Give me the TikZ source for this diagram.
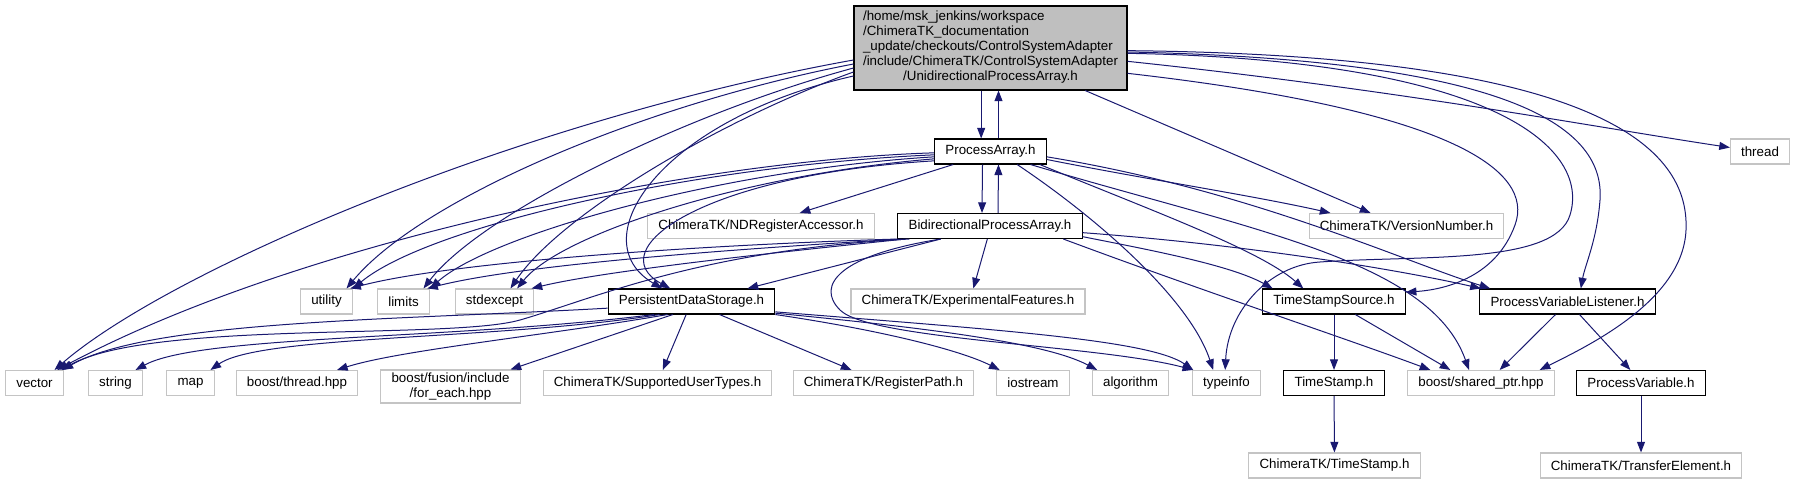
\documentclass[tikz,border=0pt]{standalone}
\usepackage{fontspec}
\setmainfont{Liberation Sans}
\usepackage{tikz}
\usetikzlibrary{arrows.meta}
\definecolor{edgeblue}{RGB}{25,25,112}
\definecolor{rootgray}{RGB}{191,191,191}
\definecolor{sysgray}{RGB}{196,196,196}

\begin{document}
\begin{tikzpicture}[
  x=0.75pt,y=-0.75pt,
  >={Triangle[length=8pt,width=6pt]},
  rootfile/.style={draw=black,line width=0.8pt,fill=rootgray,inner sep=0pt,minimum width=204.75pt,minimum height=63pt,font=\fontsize{10}{11.25}\selectfont},
  hdr/.style={draw=black,line width=0.8pt,fill=white,inner xsep=8pt,inner ysep=0pt,minimum height=18.75pt,font=\fontsize{10}{12}\selectfont},
  ext/.style={draw=sysgray,line width=0.8pt,fill=white,inner xsep=8pt,inner ysep=0pt,minimum height=18.75pt,font=\fontsize{10}{10.75}\selectfont},
  dep/.style={->,draw=edgeblue,line width=0.75pt}
]
\useasboundingbox (0,0) rectangle (1795,484);

% TOP: the documented header
\node[rootfile] (root) at (990.5,48) {\begin{tabular}{@{}l@{}}/home/msk\_jenkins/workspace\\ /ChimeraTK\_documentation\\ \_update/checkouts/ControlSystemAdapter\\ /include/ChimeraTK/ControlSystemAdapter\\ \multicolumn{1}{@{}c@{}}{/UnidirectionalProcessArray.h}\end{tabular}};

% RANK 1 and 2
\node[hdr] (pa) at (990.5,151.5) {ProcessArray.h};
\node[ext] (thread) at (1760,151.5) {thread};
\node[ext] (nd) at (761,226) {ChimeraTK/NDRegisterAccessor.h};
\node[hdr] (bpa) at (990,226) {BidirectionalProcessArray.h};
\node[ext] (vn) at (1406.5,226) {ChimeraTK/VersionNumber.h};

% RANK 3
\node[ext] (utility) at (326.5,301.5) {utility};
\node[ext] (limits) at (403.5,301.5) {limits};
\node[ext] (stdexcept) at (494.5,301.5) {stdexcept};
\node[hdr] (pds) at (691.5,301.5) {PersistentDataStorage.h};
\node[ext] (ef) at (968,301.5) {ChimeraTK/ExperimentalFeatures.h};
\node[hdr] (tss) at (1334,301.5) {TimeStampSource.h};
\node[hdr] (pvl) at (1567.5,301.5) {ProcessVariableListener.h};

% RANK 4
\node[ext] (vector) at (34.5,383) {vector};
\node[ext] (string) at (115.5,383) {string};
\node[ext] (map) at (190.5,383) {map};
\node[ext] (bth) at (297,383) {boost/thread.hpp};
\node[ext,align=center,minimum height=24.75pt] (bfe) at (450.5,386.5) {boost/fusion/include\\/for\_each.hpp};
\node[ext] (sut) at (657.5,383) {ChimeraTK/SupportedUserTypes.h};
\node[ext] (rp) at (883.5,383) {ChimeraTK/RegisterPath.h};
\node[ext] (iostream) at (1033,383) {iostream};
\node[ext] (algorithm) at (1130.5,383) {algorithm};
\node[ext] (typeinfo) at (1226.5,383) {typeinfo};
\node[hdr] (ts) at (1334,383) {TimeStamp.h};
\node[ext] (sp) at (1481,383) {boost/shared\_ptr.hpp};
\node[hdr] (pv) at (1641,383) {ProcessVariable.h};

% BOTTOM
\node[ext] (cts) at (1334.5,465.5) {ChimeraTK/TimeStamp.h};
\node[ext] (te) at (1641,465.5) {ChimeraTK/TransferElement.h};

% from the documented header
\draw[dep] ([xshift=-7pt]root.south) -- ([xshift=-7pt]pa.north);
\draw[dep] ([xshift=6pt]pa.north) -- ([xshift=6pt]root.south);
\draw[dep] ([yshift=-9pt]root.west) .. controls (520,120) and (170,270) .. ([xshift=15pt]vector.north);
\draw[dep] ([yshift=-12pt]root.west) .. controls (640,105) and (420,200) .. ([xshift=15pt]utility.north);
\draw[dep] ([yshift=-15pt]root.west) .. controls (680,115) and (480,215) .. ([xshift=15pt]limits.north);
\draw[dep] ([yshift=-18pt]root.west) .. controls (720,120) and (560,215) .. ([xshift=12pt]stdexcept.north);
\draw[dep] ([yshift=-21pt]root.west) .. controls (660,120) and (580,240) .. ([xshift=-22pt]pds.north);
\draw[dep] ([xshift=71pt]root.south) -- ([xshift=-27pt]vn.north);
\draw[dep] ([yshift=-10pt]root.east) .. controls (1400,90) and (1600,128) .. ([yshift=3pt]thread.west);
\draw[dep] ([yshift=-19pt]root.east) .. controls (1450,110) and (1535,170) .. (1515,225) .. controls (1495,280) and (1440,290) .. ([yshift=7pt]tss.east);
\draw[dep] ([yshift=-4pt]root.east) .. controls (1500,60) and (1590,150) .. (1570,215) .. controls (1555,265) and (1420,255) .. (1320,262) .. controls (1270,265) and (1228,310) .. ([xshift=-1pt]typeinfo.north);
\draw[dep] ([yshift=-3pt]root.east) .. controls (1520,60) and (1605,130) .. (1600,200) .. controls (1597,240) and (1585,265) .. ([xshift=10pt]pvl.north);
\draw[dep] ([yshift=-2pt]root.east) .. controls (1580,55) and (1690,140) .. (1686,230) .. controls (1683,300) and (1590,345) .. ([xshift=44pt]sp.north);

% ProcessArray.h
\draw[dep] ([xshift=-6pt]pa.south) -- ([xshift=-6pt]bpa.north);
\draw[dep] ([xshift=6pt]bpa.north) -- ([xshift=6pt]pa.south);
\draw[dep] ([xshift=-28pt]pa.south) -- ([xshift=29pt]nd.north);
\draw[dep] ([yshift=-1pt]pa.west) .. controls (700,160) and (300,240) .. ([xshift=17pt]vector.north);
\draw[dep] ([yshift=-2.5pt]pa.west) .. controls (700,165) and (430,225) .. ([xshift=20pt]utility.north);
\draw[dep] ([yshift=-4pt]pa.west) .. controls (720,170) and (490,235) .. ([xshift=20pt]limits.north);
\draw[dep] ([yshift=-5.5pt]pa.west) .. controls (740,175) and (560,235) .. ([xshift=17pt]stdexcept.north);
\draw[dep] ([yshift=-7pt]pa.west) .. controls (700,175) and (600,250) .. ([xshift=-16pt]pds.north);
\draw[dep] ([yshift=-6pt]pa.east) .. controls (1150,180) and (1250,195) .. ([xshift=-57pt]vn.north);
\draw[dep] ([xshift=37pt]pa.south) .. controls (1150,210) and (1260,250) .. ([xshift=-23pt]tss.north);
\draw[dep] ([yshift=-4pt]pa.east) .. controls (1250,190) and (1400,260) .. ([xshift=-58pt]pvl.north);
\draw[dep] ([xshift=30pt]pa.south) .. controls (1250,230) and (1430,260) .. ([xshift=-9pt]sp.north);
\draw[dep] ([xshift=20pt]pa.south) .. controls (1100,220) and (1190,300) .. ([xshift=-10pt]typeinfo.north);

% BidirectionalProcessArray.h
\draw[dep] (bpa.south west) .. controls (700,245) and (450,262) .. ([xshift=-2pt]utility.north east);
\draw[dep] ([xshift=3pt]bpa.south west) .. controls (720,250) and (520,265) .. ([xshift=-2pt]limits.north east);
\draw[dep] ([xshift=6pt]bpa.south west) .. controls (750,255) and (600,272) .. ([xshift=-2pt]stdexcept.north east);
\draw[dep] ([xshift=9pt]bpa.south west) .. controls (700,250) and (590,300) .. (520,320) .. controls (450,340) and (150,320) .. ([xshift=20pt]vector.north);
\draw[dep] ([xshift=-37pt]bpa.south) -- ([xshift=42pt]pds.north);
\draw[dep] ([xshift=-2pt]bpa.south) -- ([xshift=4pt]ef.north);
\draw[dep] ([xshift=-37pt]bpa.south) .. controls (840,255) and (815,285) .. (840,310) .. controls (870,340) and (1100,345) .. ([xshift=-25pt]typeinfo.north);
\draw[dep] ([yshift=-8pt]bpa.east) .. controls (1150,250) and (1230,265) .. ([xshift=-46pt]tss.north);
\draw[dep] ([yshift=-5pt]bpa.east) .. controls (1250,245) and (1400,270) .. ([xshift=-65pt]pvl.north);
\draw[dep] ([xshift=55pt]bpa.south) .. controls (1200,290) and (1350,340) .. ([xshift=-38pt]sp.north);

% PersistentDataStorage.h
\draw[dep] ([yshift=-5pt]pds.west) .. controls (400,320) and (150,320) .. ([xshift=21pt]vector.north);
\draw[dep] ([xshift=-28pt]pds.south) .. controls (450,340) and (200,335) .. ([xshift=15pt]string.north);
\draw[dep] ([xshift=-24pt]pds.south) .. controls (500,340) and (260,335) .. ([xshift=15pt]map.north);
\draw[dep] ([xshift=-18pt]pds.south) .. controls (550,335) and (400,350) .. ([xshift=30pt]bth.north);
\draw[dep] ([xshift=-14pt]pds.south) -- ([xshift=45pt]bfe.north);
\draw[dep] ([xshift=-4pt]pds.south) -- ([xshift=4pt]sut.north);
\draw[dep] ([xshift=21pt]pds.south) -- ([xshift=-24pt]rp.north);
\draw[dep] (pds.south east) .. controls (880,330) and (960,350) .. ([xshift=-25pt]iostream.north);
\draw[dep] ([yshift=1pt]pds.south east) .. controls (950,330) and (1050,345) .. ([xshift=-25pt]algorithm.north);
\draw[dep] ([yshift=2pt]pds.south east) .. controls (1000,330) and (1150,340) .. ([xshift=-25pt]typeinfo.north);

% lower headers
\draw[dep] (tss) -- (ts);
\draw[dep] ([xshift=16pt]tss.south) -- ([xshift=-23pt]sp.north);
\draw[dep] ([xshift=-9pt]pvl.south) -- ([xshift=14pt]sp.north);
\draw[dep] ([xshift=9pt]pvl.south) -- ([xshift=-8pt]pv.north);
\draw[dep] (ts) -- (cts);
\draw[dep] (pv) -- (te);
\end{tikzpicture}
\end{document}
